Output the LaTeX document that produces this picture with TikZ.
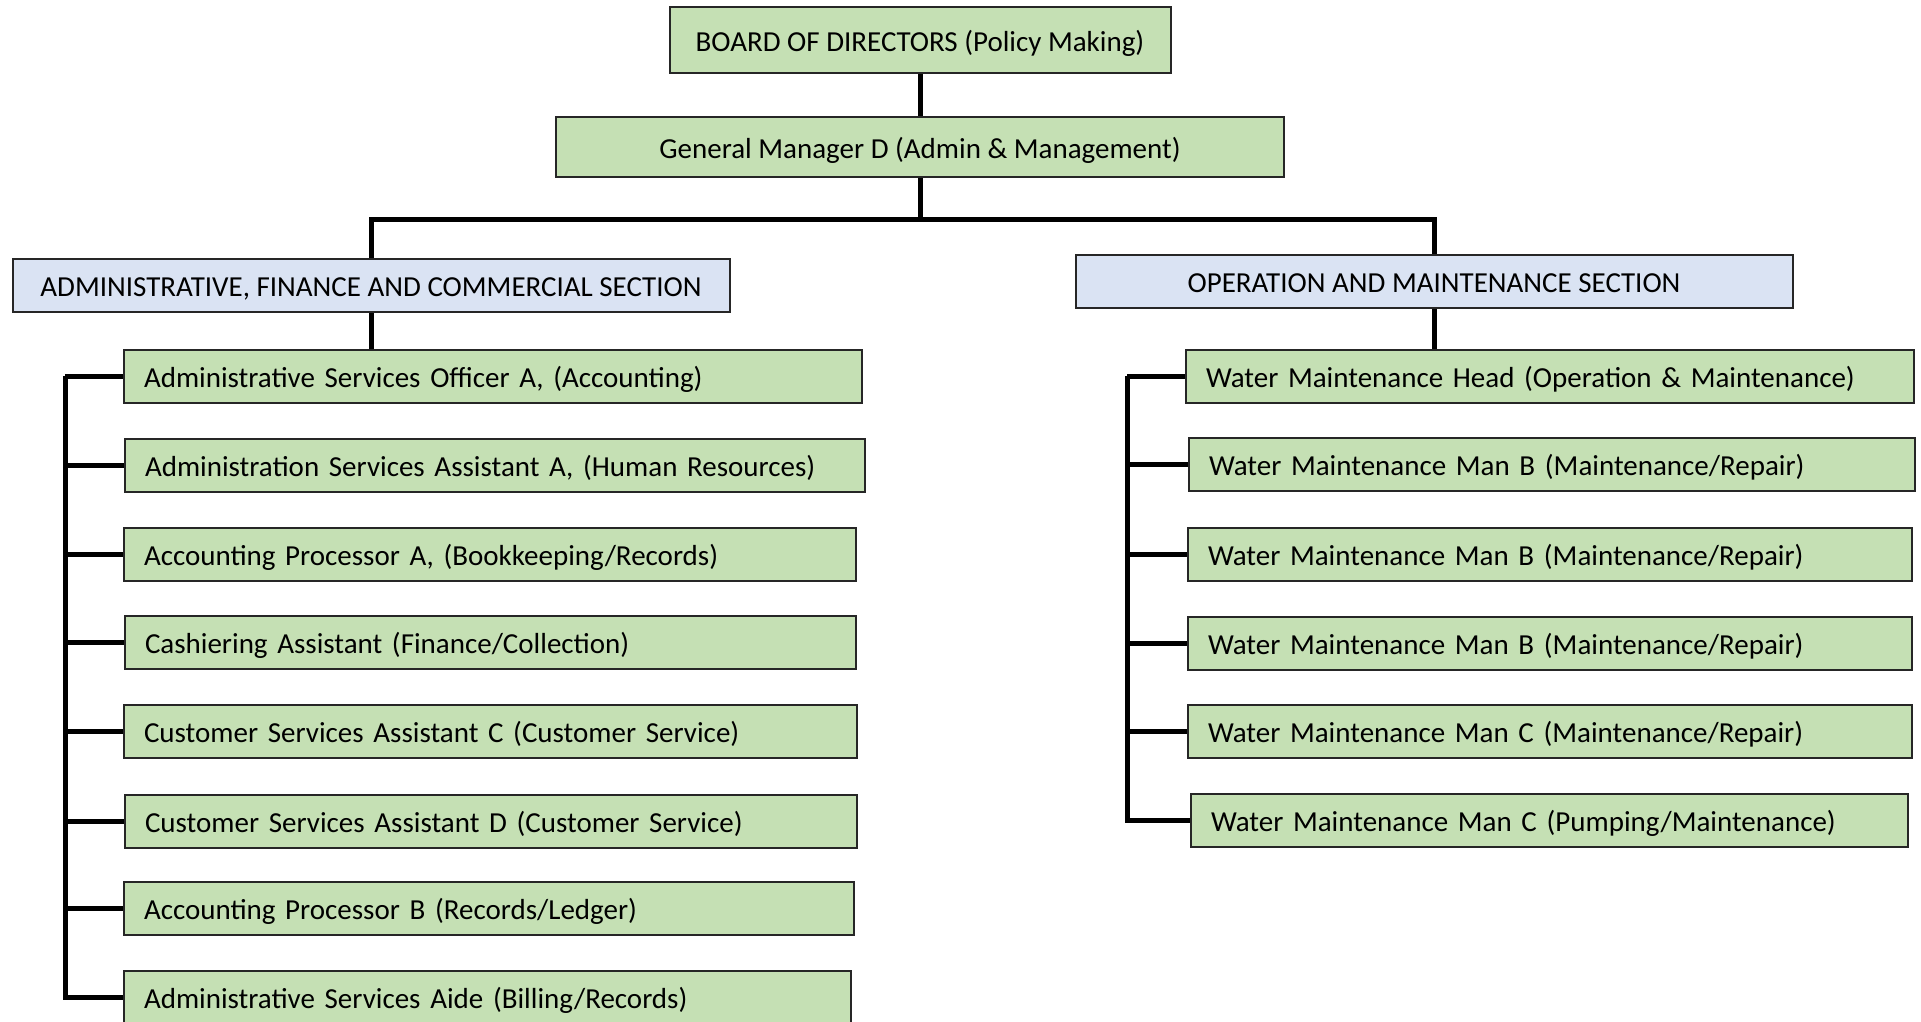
\documentclass[tikz,border=0pt]{standalone}
\usepackage{fontspec}
\setmainfont{Carlito}
\usepackage{tikz}
\pgfdeclarelayer{bg}
\pgfsetlayers{bg,main}
\definecolor{postgreen}{HTML}{C5E0B4}
\definecolor{sectionblue}{HTML}{DAE3F3}
\newcommand{\orgfont}{\fontsize{29}{34}\selectfont}
\tikzset{post/.style={draw=black!85, line width=2pt, fill=postgreen, minimum height=52.5pt, inner ysep=0pt,
                      text height=24pt, text depth=1pt, font=\orgfont},
         leftpost/.style={post, anchor=north west, align=left, inner xsep=20pt},
         headpost/.style={post, anchor=north, align=center},
         section/.style={headpost, fill=sectionblue},
         link/.style={line width=5pt}}

\begin{document}
\begin{tikzpicture}[x=1pt, y=-1pt]
    \useasboundingbox (0,0) rectangle (1921,1022);

    \node (board) at (920, 6) [headpost, minimum width=501pt, minimum height=66pt] {BOARD OF DIRECTORS (Policy Making)};
    \node (gm) at (920, 116) [headpost, minimum width=728pt, minimum height=60pt] {General Manager D (Admin \& Management)};

    \node (asec) at (371, 258) [section, minimum width=717pt] {ADMINISTRATIVE, FINANCE AND COMMERCIAL SECTION};
    \node (osec) at (1434, 254) [section, minimum width=717pt] {OPERATION AND MAINTENANCE SECTION};

    % administrative, finance and commercial posts
    \node (a1) at (123, 349) [leftpost, text width=698pt] {Administrative Services Officer A, (Accounting)};
    \node (a2) at (124, 438) [leftpost, text width=700pt] {Administration Services Assistant A, (Human Resources)};
    \node (a3) at (123, 527) [leftpost, text width=692pt] {Accounting Processor A, (Bookkeeping/Records)};
    \node (a4) at (124, 615) [leftpost, text width=691pt] {Cashiering Assistant (Finance/Collection)};
    \node (a5) at (123, 704) [leftpost, text width=693pt] {Customer Services Assistant C (Customer Service)};
    \node (a6) at (124, 794) [leftpost, text width=692pt] {Customer Services Assistant D (Customer Service)};
    \node (a7) at (123, 881) [leftpost, text width=690pt] {Accounting Processor B (Records/Ledger)};
    \node (a8) at (123, 970) [leftpost, text width=687pt] {Administrative Services Aide (Billing/Records)};

    % operation and maintenance posts
    \node (o1) at (1185, 349) [leftpost, text width=688pt] {Water Maintenance Head (Operation \& Maintenance)};
    \node (o2) at (1188, 437) [leftpost, text width=686pt] {Water Maintenance Man B (Maintenance/Repair)};
    \node (o3) at (1187, 527) [leftpost, text width=684pt] {Water Maintenance Man B (Maintenance/Repair)};
    \node (o4) at (1187, 616) [leftpost, text width=684pt] {Water Maintenance Man B (Maintenance/Repair)};
    \node (o5) at (1187, 704) [leftpost, text width=684pt] {Water Maintenance Man C (Maintenance/Repair)};
    \node (o6) at (1190, 793) [leftpost, text width=677pt] {Water Maintenance Man C (Pumping/Maintenance)};

    \begin{pgfonlayer}{bg}
        \draw[link] (board) -- (gm);
        \draw[link] (gm.south) -- ++(0,41) coordinate (bus);
        \draw[link] (asec.north) |- (bus) -| (osec.north);
        \draw[link] (asec.south) -- (asec.south |- a1.north);
        \draw[link] (osec.south) -- (osec.south |- o1.north);

        \draw[link] (a1.west) -- ++(-58,0) coordinate (aspine);
        \draw[link] (aspine) |- (a8.west);
        \draw[link] (aspine |- a2.west) -- (a2.west);
        \draw[link] (aspine |- a3.west) -- (a3.west);
        \draw[link] (aspine |- a4.west) -- (a4.west);
        \draw[link] (aspine |- a5.west) -- (a5.west);
        \draw[link] (aspine |- a6.west) -- (a6.west);
        \draw[link] (aspine |- a7.west) -- (a7.west);

        \draw[link] (o1.west) -- ++(-58,0) coordinate (ospine);
        \draw[link] (ospine) |- (o6.west);
        \draw[link] (ospine |- o2.west) -- (o2.west);
        \draw[link] (ospine |- o3.west) -- (o3.west);
        \draw[link] (ospine |- o4.west) -- (o4.west);
        \draw[link] (ospine |- o5.west) -- (o5.west);
    \end{pgfonlayer}
\end{tikzpicture}
\end{document}
